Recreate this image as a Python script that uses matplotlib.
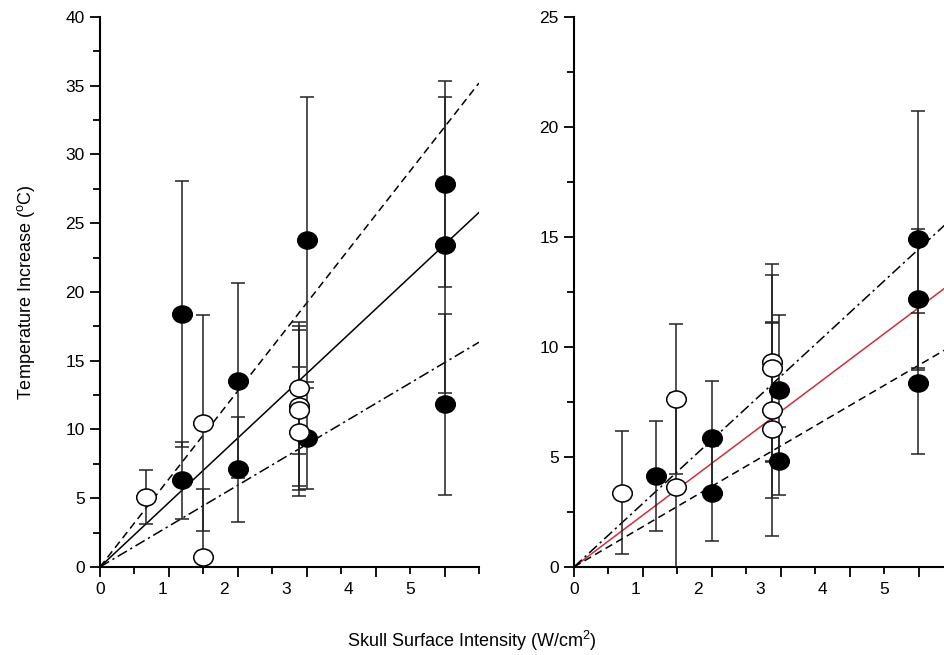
import numpy as np
import matplotlib
matplotlib.use("Agg")
import matplotlib.pyplot as plt
from matplotlib.markers import MarkerStyle
from matplotlib.transforms import Affine2D

plt.rcParams['font.family'] = ['Liberation Sans', 'DejaVu Sans']
plt.rcParams['mathtext.default'] = 'regular'

# ---- data (x in W/cm^2, y in deg C) ----
left_filled_x = [1.32, 1.32, 2.23, 2.23, 3.33, 3.33, 5.57, 5.57, 5.57]
left_filled_y = [18.4, 6.3, 13.55, 7.1, 23.8, 9.35, 27.85, 23.4, 11.83]
left_filled_err = [9.7, 2.8, 7.1, 3.8, 10.35, 3.7, 7.5, 10.75, 6.6]

left_open_x = [0.75, 1.66, 1.66, 3.21, 3.21, 3.21, 3.21]
left_open_y = [5.11, 10.45, 0.75, 13.0, 11.7, 11.4, 9.84]
left_open_err = [1.95, 7.85, 4.9, 4.8, 5.8, 5.8, 4.7]

right_filled_x = [1.32, 2.22, 2.22, 3.31, 3.31, 5.54, 5.54, 5.54]
right_filled_y = [4.15, 5.85, 3.35, 8.05, 4.82, 14.9, 12.17, 8.35]
right_filled_err = [2.5, 2.6, 2.17, 3.4, 1.55, 5.84, 3.2, 3.2]

right_open_x = [0.77, 1.65, 1.65, 3.2, 3.2, 3.2, 3.2]
right_open_y = [3.38, 7.64, 3.65, 9.3, 9.03, 7.14, 6.26]
right_open_err = [2.8, 3.4, 4.27, 4.47, 4.24, 4.0, 4.85]

# fitted slopes through the origin
left_slopes = {'solid': 4.22, 'dashed': 5.76, 'dashdot': 2.675}
right_slopes = {'solid': 2.12, 'dashdot': 2.6, 'dashed': 1.65}

x_labels = [0, 1, 2, 3, 4, 5]
XMAX = 6.11

fig = plt.figure(figsize=(9.44, 6.55), dpi=100, facecolor='w')
ax1 = fig.add_axes([0.1059, 0.1344, 0.4015, 0.8397])
ax2 = fig.add_axes([0.608, 0.1344, 0.4015, 0.8397])

dot = MarkerStyle('o', transform=Affine2D().scale(1.15, 1.0))
styles = {'solid': '-', 'dashed': (0, (5, 3)), 'dashdot': (0, (7, 2.5, 1.5, 2.5))}


def draw_panel(ax, fx, fy, fe, ox, oy, oe, slopes, ymax, red_solid=False):
    xs = np.array([0, XMAX])
    for name, s in slopes.items():
        col = '#c8323c' if (red_solid and name == 'solid') else 'black'
        ax.plot(xs, s * xs, color=col, linestyle=styles[name], linewidth=1.1, zorder=2)
    for x, y, e, face in [(fx, fy, fe, 'black'), (ox, oy, oe, 'white')]:
        ax.errorbar(x, y, yerr=e, fmt='none', ecolor='#222222', elinewidth=1.1,
                    capsize=5, capthick=1.1, zorder=3)
        ax.scatter(x, y, marker=dot, s=150, facecolor=face, edgecolor='black',
                   linewidth=1.1, zorder=4)

    ax.set_xlim(0, XMAX)
    ax.set_ylim(0, ymax)
    for side in ['top', 'right']:
        ax.spines[side].set_visible(False)
    for side in ['left', 'bottom']:
        ax.spines[side].set_linewidth(1.5)

    ticks = np.linspace(0, XMAX, 12)
    ax.set_xticks(ticks[::2])
    ax.set_xticks(ticks[1::2], minor=True)
    ax.set_xticklabels([])
    ax.set_yticks(np.arange(0, ymax + 1, 5))
    ax.set_yticks(np.arange(2.5, ymax, 5), minor=True)
    ax.tick_params(which='major', direction='out', length=7, width=1.3,
                   labelsize=12.5, pad=4)
    ax.tick_params(which='minor', direction='out', length=5, width=1.3)
    for v in x_labels:
        ax.text(v, -0.027, str(v), transform=ax.get_xaxis_transform(),
                ha='center', va='top', fontsize=12.5)


draw_panel(ax1, left_filled_x, left_filled_y, left_filled_err,
           left_open_x, left_open_y, left_open_err, left_slopes, 40)
draw_panel(ax2, right_filled_x, right_filled_y, right_filled_err,
           right_open_x, right_open_y, right_open_err, right_slopes, 25, red_solid=True)

ax1.set_ylabel(r'Temperature Increase ($^{o}$C)', fontsize=13, labelpad=20)
fig.text(0.5, 0.022, r'Skull Surface Intensity (W/cm$^{2}$)', ha='center', va='center',
         fontsize=13)

fig.savefig('out.png', dpi=100)
